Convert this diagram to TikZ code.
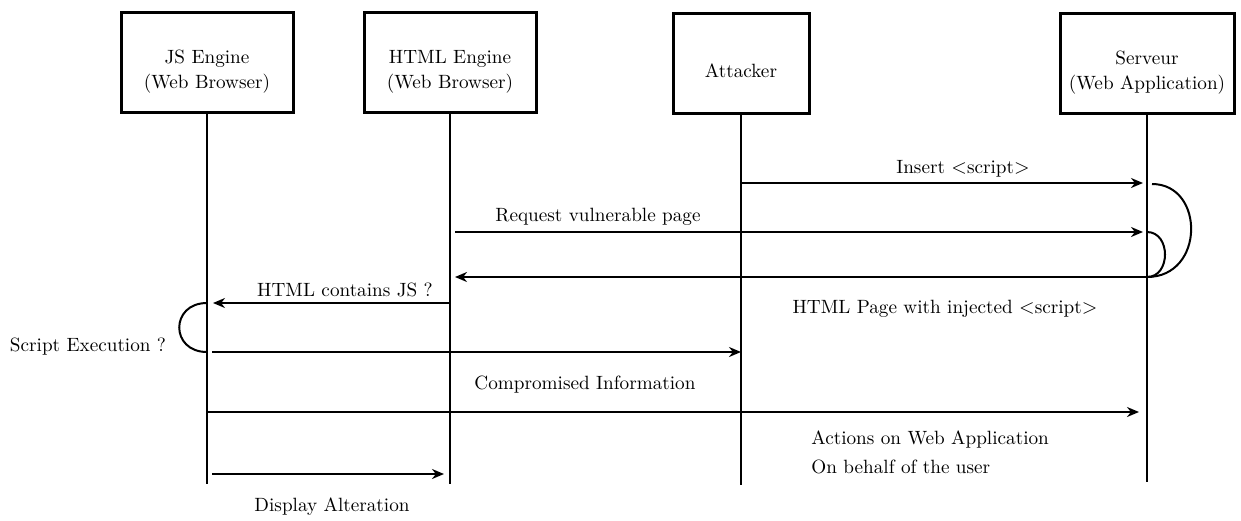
\documentclass[tikz,border=0pt]{standalone}
\usepackage{amsmath,amssymb}
\usepackage{tikz}
\usetikzlibrary{arrows.meta, positioning}

\begin{document}
\begin{tikzpicture}[x=0.5pt, y=-0.5pt, font=\fontsize{9.6}{10.5}\selectfont]
        % Setup the styles for the actors and messages
        \tikzset{actor/.style={draw,
                               line width=1.5pt,
                               minimum height=50pt,
                               inner sep=2pt}}
        \tikzset{actortext/.style={align=center,
                                   inner sep=1pt,
                                   font=\fontsize{9.6}{12.5}\selectfont}}
        \tikzset{lifeline/.style={line width=1pt}}
        \tikzset{msg/.style={line width=1pt,
                             -{Stealth[length=6pt, width=5pt]}}}
        \tikzset{loopline/.style={line width=1pt}}
        \tikzset{label/.style={inner sep=1pt}}

        \useasboundingbox (0,0) rectangle (1241,520);

        % Draw the actors
        \node[actor, minimum width=86pt] at (207, 62) (js) {};
        \node[actor, minimum width=86pt] at (450, 62) (html) {};
        \node[actor, minimum width=68pt] at (741, 63) (attacker) {};
        \node[actor, minimum width=87pt] at (1147, 63) (server) {};
        \node[actortext] at ([yshift=-5pt]js.center) (js text) {JS Engine\\(Web Browser)};
        \node[actortext] at ([yshift=-5pt]html.center) (html text) {HTML Engine\\(Web Browser)};
        \node[actortext] at ([yshift=-4pt]attacker.center) (attacker text) {Attacker};
        \node[actortext] at ([yshift=-5pt]server.center) (server text) {Serveur\\(Web Application)};

        % Lifelines
        \coordinate (js end) at (207, 484);
        \coordinate (html end) at (450, 484);
        \coordinate (attacker end) at (741, 485);
        \coordinate (server end) at (1147, 482);
        \draw[lifeline] (js) -- (js end);
        \draw[lifeline] (html) -- (html end);
        \draw[lifeline] (attacker) -- (attacker end);
        \draw[lifeline] (server) -- (server end);

        % Messages
        \draw[msg, shorten >=2pt] (attacker |- 0,183) -- (server |- 0,183);
        \draw[msg, shorten <=2.5pt, shorten >=2pt] (html |- 0,232) -- (server |- 0,232);
        \draw[msg, shorten >=2.5pt] (server |- 0,277) -- (html |- 0,277);
        \draw[msg, shorten >=3pt] (html |- 0,303) -- (js |- 0,303);
        \draw[msg, shorten <=2.5pt] (js |- 0,352) -- (attacker |- 0,352);
        \draw[msg, shorten >=4pt] (js |- 0,412) -- (server |- 0,412);
        \draw[msg, shorten <=2.5pt, shorten >=3pt] (js |- 0,474) -- (html |- 0,474);

        % Self loops
        \draw[loopline] (1152,184) .. controls (1205,184) and (1205,277) .. (server |- 0,277);
        \draw[loopline] (server |- 0,232) .. controls (1171,232) and (1171,277) .. (server |- 0,277);
        \draw[loopline] (js |- 0,303) .. controls (170,303) and (170,352) .. (js |- 0,352);

        % Labels
        \node[label] at (963, 169) (insert) {Insert $<$script$>$};
        \node[label] at (598, 217) (request) {Request vulnerable page};
        \node[label] at (945, 309) (page) {HTML Page with injected $<$script$>$};
        \node[label] at (345, 290) (contains) {HTML contains JS ?};
        \node[label] at (88, 347) (exec) {Script Execution ?};
        \node[label] at (585, 385) (info) {Compromised Information};
        \node[label, anchor=west, align=left, font=\fontsize{9.6}{14.5}\selectfont] at (809, 452) (actions) {Actions on Web Application\\On behalf of the user};
        \node[label] at (332, 507) (display) {Display Alteration};
\end{tikzpicture}
\end{document}
